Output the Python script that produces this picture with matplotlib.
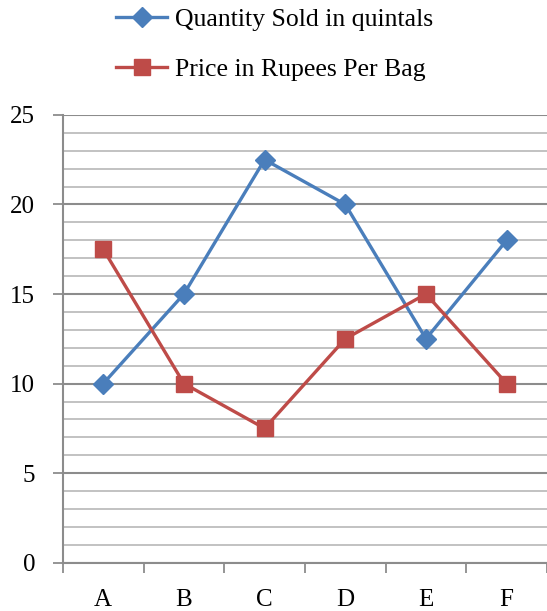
import matplotlib.pyplot as plt
from matplotlib.ticker import MultipleLocator, FixedLocator

categories = ["A", "B", "C", "D", "E", "F"]
quantity = [10, 15, 22.5, 20, 12.5, 18]
price = [17.5, 10, 7.5, 12.5, 15, 10]

plt.rcParams['font.family'] = ['Liberation Serif', 'DejaVu Serif']

fig = plt.figure(figsize=(5.47, 6.11), dpi=100)
ax = fig.add_axes([0.115, 0.079, 0.885, 0.733])

x = [i + 0.5 for i in range(len(categories))]

ax.plot(x, quantity, color='#4A7EBB', lw=2.4, marker='D', ms=10.5,
        label='Quantity Sold in quintals', zorder=3)
ax.plot(x, price, color='#BE4B48', lw=2.4, marker='s', ms=11,
        label='Price in Rupees Per Bag', zorder=3)

ax.set_xlim(0, 6)
ax.set_ylim(0, 25)

# gridlines
ax.yaxis.set_major_locator(MultipleLocator(5))
ax.yaxis.set_minor_locator(MultipleLocator(1))
ax.grid(which='minor', axis='y', color='#bdbdbd', lw=1.3)
ax.grid(which='major', axis='y', color='#8c8c8c', lw=1.5)
ax.set_axisbelow(True)

# x ticks between categories, labels centred
ax.xaxis.set_major_locator(FixedLocator(range(7)))
ax.xaxis.set_minor_locator(FixedLocator(x))
ax.set_xticklabels([])
ax.set_xticklabels(categories, minor=True)
ax.tick_params(axis='x', which='major', length=7, width=1.3, color='#8c8c8c', direction='out')
ax.tick_params(axis='x', which='minor', length=0, pad=19, labelsize=18)
ax.tick_params(axis='y', which='major', length=7, width=1.3, color='#8c8c8c', pad=13, labelsize=18)
ax.tick_params(axis='y', which='minor', length=0)

for s in ['top', 'right']:
    ax.spines[s].set_visible(False)
for s in ['left', 'bottom']:
    ax.spines[s].set_color('#8c8c8c')
    ax.spines[s].set_linewidth(1.5)

fig.legend(loc='upper center', bbox_to_anchor=(0.502, 1.024), frameon=False,
           fontsize=18.5, handlelength=2.0, labelspacing=1.02, handletextpad=0.3)

fig.savefig('out.png', dpi=100)
